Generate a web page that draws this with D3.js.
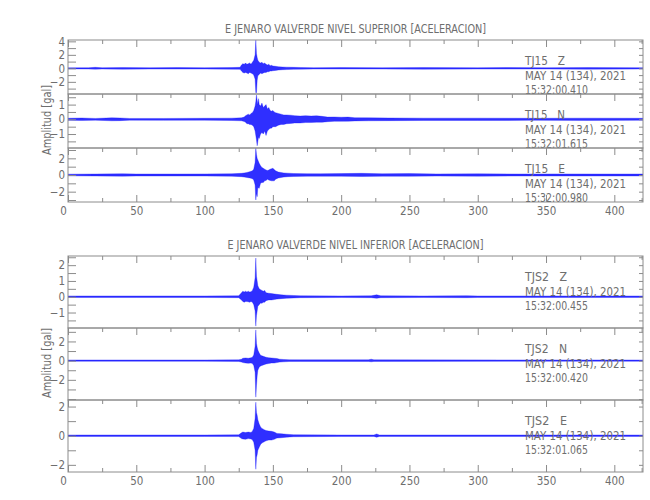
<!DOCTYPE html>
<html>
<head>
<meta charset="utf-8">
<script src="https://cdn.jsdelivr.net/npm/d3@7"></script>
<style>
body { margin: 0; background: #fff; }
text { font-family: "Liberation Sans Narrow", "DejaVu Sans Condensed", sans-serif; fill: #6e6e6e; }
</style>
</head>
<body>
<div id="chart"></div>
<script>
// envelopes: [time s, upper peak, lower peak] in gal
var tj15Z = [[0,.08,-.08],[15,.1,-.1],[20,.15,-.12],[25,.1,-.1],[40,.12,-.12],[60,.1,-.1],[80,.12,-.1],[100,.1,-.1],[120,.12,-.12],[126,.15,-.15],
  [127,.5,-.4],[128,.7,-.6],[129,.6,-.7],[130,.8,-.6],[131,.6,-.7],[132,.7,-.8],[133,.8,-.6],[134,.6,-.7],[135,.9,-.8],[136,1.2,-1.0],
  [137,2.0,-1.6],[137.5,4.2,-3.6],[138,2.2,-3.6],[138.5,1.6,-1.8],[139,1.2,-1.1],[140,.9,-.9],[141,.8,-.7],[142,.9,-.8],[143,.7,-.7],
  [144,.8,-.6],[145,.6,-.6],[146,.5,-.5],[147,.6,-.5],[148,.4,-.4],[149,.45,-.4],[150,.35,-.35],[152,.3,-.3],[154,.25,-.25],[157,.2,-.2],
  [160,.18,-.18],[165,.15,-.15],[170,.13,-.12],[180,.1,-.1],[200,.12,-.1],[230,.1,-.1],[260,.12,-.12],[300,.1,-.1],[320,.12,-.1],
  [350,.1,-.1],[380,.12,-.12],[421,.1,-.1]];
var tj15N = [[0,.07,-.07],[10,.09,-.08],[20,.06,-.06],[32,.1,-.1],[38,.09,-.09],[45,.06,-.06],[70,.06,-.07],[100,.07,-.06],[120,.08,-.08],
  [127,.1,-.1],[129,.15,-.15],[130,.25,-.2],[131,.3,-.3],[132,.35,-.3],[133,.3,-.35],[134,.4,-.35],[135,.45,-.4],[136,.6,-.5],[137,.9,-.8],
  [137.5,1.2,-1.1],[138,1.65,-1.4],[138.5,1.3,-1.8],[139,1.0,-1.5],[139.5,1.4,-1.2],[140,1.0,-1.3],[141,.9,-1.0],[142,1.1,-.9],[143,.8,-1.0],
  [144,.9,-.8],[145,1.0,-1.1],[146,.7,-.8],[147,.8,-.7],[148,.6,-.6],[149,.55,-.6],[150,.6,-.5],[151,.5,-.5],[152,.45,-.5],[154,.4,-.4],
  [156,.35,-.35],[158,.3,-.35],[160,.3,-.3],[163,.28,-.28],[166,.25,-.25],[170,.22,-.25],[174,.25,-.22],[178,.22,-.22],[182,.24,-.2],
  [186,.2,-.2],[190,.15,-.16],[195,.16,-.14],[200,.14,-.14],[205,.15,-.13],[210,.11,-.11],[220,.1,-.1],[235,.09,-.09],[260,.08,-.08],
  [300,.08,-.08],[340,.07,-.07],[380,.08,-.08],[421,.07,-.07]];
var tj15E = [[0,.1,-.1],[20,.12,-.12],[40,.15,-.14],[50,.12,-.12],[80,.12,-.12],[100,.13,-.12],[120,.15,-.15],[127,.2,-.2],[129,.25,-.25],
  [131,.3,-.3],[133,.4,-.35],[134,.45,-.4],[135,.5,-.45],[136,.7,-.6],[137,1.5,-1.2],[137.5,3.2,-3.0],[138,2.5,-2.2],[138.5,2.0,-2.6],
  [139,1.8,-1.5],[140,1.4,-1.6],[141,1.1,-1.0],[142,.9,-.9],[143,.8,-.9],[144,.7,-.7],[145,.6,-.65],[146,.55,-.5],[147,.6,-.6],[148,.7,-.65],
  [149,.75,-.7],[150,.8,-.7],[151,.65,-.7],[152,.5,-.5],[154,.35,-.35],[156,.3,-.3],[158,.25,-.25],[161,.22,-.2],[165,.18,-.18],
  [175,.16,-.15],[185,.15,-.15],[200,.17,-.15],[215,.2,-.18],[230,.15,-.15],[250,.17,-.16],[270,.13,-.13],[300,.14,-.14],[330,.12,-.12],
  [360,.13,-.12],[390,.12,-.12],[421,.12,-.12]];
var tjs2Z = [[0,.05,-.05],[50,.05,-.05],[100,.05,-.05],[125,.06,-.06],[127,.25,-.2],[128,.35,-.3],[129,.3,-.35],[130,.35,-.3],[131,.3,-.3],
  [132,.35,-.32],[133,.3,-.35],[134,.32,-.3],[135,.4,-.35],[136,.6,-.5],[137,1.2,-.9],[137.5,2.45,-1.86],[138,1.3,-1.2],[138.5,1.0,-.9],
  [139,.7,-.6],[140,.5,-.5],[141,.45,-.4],[142,.4,-.42],[143,.35,-.35],[144,.4,-.35],[145,.25,-.25],[147,.22,-.2],[149,.2,-.2],
  [151,.18,-.18],[153,.15,-.15],[156,.12,-.12],[160,.1,-.1],[165,.08,-.08],[170,.06,-.06],[200,.05,-.05],[222,.06,-.06],[226,.12,-.1],
  [229,.06,-.06],[260,.05,-.05],[292,.07,-.06],[300,.05,-.05],[421,.05,-.05]];
var tjs2N = [[0,.07,-.07],[100,.07,-.07],[125,.08,-.08],[127,.15,-.15],[128,.25,-.2],[130,.28,-.25],[132,.25,-.28],[134,.3,-.25],
  [135,.35,-.3],[136,.6,-.5],[137,1.5,-1.2],[137.5,3.2,-3.8],[138,1.8,-2.6],[138.5,1.4,-1.6],[139,1.1,-1.0],[140,.8,-.7],[141,.55,-.55],
  [142,.5,-.5],[143,.45,-.45],[145,.35,-.35],[147,.3,-.3],[149,.28,-.25],[151,.25,-.25],[153,.22,-.2],[155,.15,-.15],[158,.12,-.12],
  [162,.09,-.09],[170,.08,-.08],[220,.08,-.08],[222,.15,-.12],[224,.08,-.08],[421,.07,-.07]];
var tjs2E = [[0,.05,-.05],[100,.05,-.05],[125,.06,-.06],[127,.2,-.2],[128,.25,-.22],[130,.22,-.25],[132,.25,-.2],[134,.22,-.22],
  [135,.3,-.28],[136,.5,-.45],[137,1.2,-1.0],[137.5,2.3,-2.3],[138,1.6,-1.5],[138.5,1.4,-1.3],[139,1.1,-1.0],[140,.8,-.8],[141,.6,-.6],
  [142,.5,-.5],[143,.45,-.45],[144,.4,-.4],[145,.35,-.35],[147,.32,-.3],[149,.3,-.3],[151,.25,-.25],[153,.16,-.16],[156,.14,-.14],
  [160,.1,-.1],[165,.07,-.07],[200,.05,-.05],[224,.05,-.05],[226,.12,-.1],[228,.05,-.05],[421,.05,-.05]];

var titles = ["E JENARO VALVERDE NIVEL SUPERIOR [ACELERACION]", "E JENARO VALVERDE NIVEL INFERIOR [ACELERACION]"];
var stations = ["TJ15", "TJS2"];
var components = ["Z", "N", "E"];
var dateLabel = "MAY 14 (134), 2021";
var startUpper = ["15:32:00.410", "15:32:01.615", "15:32:00.980"];
var startLower = ["15:32:00.455", "15:32:00.420", "15:32:01.065"];
var xMajor = [0, 50, 100, 150, 200, 250, 300, 350, 400];
var xMinor = [25, 75, 125, 175, 225, 275, 325, 375, 420];
var yLabel = "Amplitud [gal]";

var width = 650, height = 500;
var svg = d3.select("#chart").append("svg")
    .attr("width", width)
    .attr("height", height);

var x = d3.scaleLinear().domain([0, 421]).range([68, 643]);

var blocks = [
    {top: 40, h: 54, titleY: 33, labelY: 120, titleLen: 261, title: titles[0], station: stations[0], starts: startUpper,
     panels: [
        {data: tj15Z, dom: [-3.8, 4.2], major: [-2, 0, 2, 4], minor: [-3, -1, 1, 3]},
        {data: tj15N, dom: [-1.95, 1.72], major: [-1, 0, 1], minor: [-1.5, -0.5, 0.5, 1.5]},
        {data: tj15E, dom: [-3.24, 3.24], major: [-2, 0, 2], minor: [-3, -1, 1, 3]}
     ]},
    {top: 256, h: 72, titleY: 249, labelY: 363, titleLen: 256, title: titles[1], station: stations[1], starts: startLower,
     panels: [
        {data: tjs2Z, dom: [-1.98, 2.58], major: [-1, 0, 1, 2], minor: [-1.5, -0.5, 0.5, 1.5, 2.5]},
        {data: tjs2N, dom: [-4.1, 3.4], major: [-2, 0, 2], minor: [-4, -3, -1, 1, 3]},
        {data: tjs2E, dom: [-2.49, 2.45], major: [-2, 0, 2], minor: [-1, 1]}
     ]}
];

function styleAxis(g) {
    g.select(".domain").remove();
    g.selectAll("line").attr("stroke", "#8c8c8c");
    g.attr("font-family", null).attr("font-size", null);
    g.selectAll("text").style("font-size", "11.5px").attr("fill", null);
}

blocks.forEach(function(b, bi) {
    var cx = (x.range()[0] + x.range()[1]) / 2;

    svg.append("text")
        .attr("x", cx)
        .attr("y", b.titleY)
        .attr("text-anchor", "middle")
        .attr("textLength", b.titleLen)
        .attr("lengthAdjust", "spacingAndGlyphs")
        .style("font-size", "11.5px")
        .text(b.title);

    svg.append("text")
        .attr("transform", "translate(51," + b.labelY + ") rotate(-90)")
        .attr("text-anchor", "middle")
        .attr("textLength", 70)
        .attr("lengthAdjust", "spacingAndGlyphs")
        .style("font-size", "12px")
        .text(yLabel);

    b.panels.forEach(function(p, i) {
        var y0 = b.top + b.h * i, y1 = y0 + b.h;
        var y = d3.scaleLinear().domain(p.dom).range([y1, y0]);
        var clipId = "clip" + bi + i;

        svg.append("clipPath").attr("id", clipId)
            .append("rect")
            .attr("x", x.range()[0]).attr("y", y0)
            .attr("width", x.range()[1] - x.range()[0]).attr("height", b.h);

        // trace
        var area = d3.area()
            .x(function(d) { return x(d[0]); })
            .y0(function(d) { return y(d[2]); })
            .y1(function(d) { return y(d[1]); });
        svg.append("path")
            .datum(p.data)
            .attr("clip-path", "url(#" + clipId + ")")
            .attr("d", area)
            .attr("fill", "#0a0aff")
            .attr("fill-opacity", 0.85)
            .attr("stroke", "#0a0aff")
            .attr("stroke-opacity", 0.6)
            .attr("stroke-width", 0.5);

        // frame
        svg.append("rect")
            .attr("x", x.range()[0]).attr("y", y0)
            .attr("width", x.range()[1] - x.range()[0]).attr("height", b.h)
            .attr("fill", "none").attr("stroke", "#8c8c8c").attr("stroke-width", 1);

        // top x ticks, pointing down
        svg.append("g").attr("transform", "translate(0," + y0 + ")")
            .call(d3.axisBottom(x).tickValues(xMajor).tickSize(7).tickFormat(""))
            .call(styleAxis);
        svg.append("g").attr("transform", "translate(0," + y0 + ")")
            .call(d3.axisBottom(x).tickValues(xMinor).tickSize(4).tickFormat(""))
            .call(styleAxis);

        // left y axis, ticks inside
        svg.append("g").attr("transform", "translate(" + x.range()[0] + ",0)")
            .call(d3.axisLeft(y).tickValues(p.major).tickSize(-8).tickPadding(3).tickFormat(d3.format("d")))
            .call(styleAxis);
        svg.append("g").attr("transform", "translate(" + x.range()[0] + ",0)")
            .call(d3.axisLeft(y).tickValues(p.minor).tickSize(-8).tickFormat(""))
            .call(styleAxis);

        // right y ticks
        svg.append("g").attr("transform", "translate(" + x.range()[1] + ",0)")
            .call(d3.axisRight(y).tickValues(p.major.concat(p.minor)).tickSize(-4).tickFormat(""))
            .call(styleAxis);

        // station annotation
        var lines = [b.station + "   " + components[i], dateLabel, b.starts[i]];
        var lens = [b.station === "TJS2" ? 42 : 40, 101, 63];
        var offs = [25, 39.5, 53.5];
        lines.forEach(function(s, k) {
            svg.append("text")
                .attr("x", 525)
                .attr("y", y0 + offs[k])
                .attr("textLength", lens[k])
                .attr("lengthAdjust", "spacingAndGlyphs")
                .style("white-space", "pre")
                .style("font-size", "12.5px")
                .text(s);
        });

        if (i === b.panels.length - 1) {
            var bottom = svg.append("g").attr("transform", "translate(0," + y1 + ")")
                .call(d3.axisBottom(x).tickValues(xMajor).tickSize(-7).tickPadding(5))
                .call(styleAxis);
            bottom.selectAll("text").filter(function(d) { return d === 0; }).attr("dx", -5);
            svg.append("g").attr("transform", "translate(0," + y1 + ")")
                .call(d3.axisBottom(x).tickValues(xMinor).tickSize(-4).tickFormat(""))
                .call(styleAxis);
        }
    });
});
</script>
</body>
</html>
